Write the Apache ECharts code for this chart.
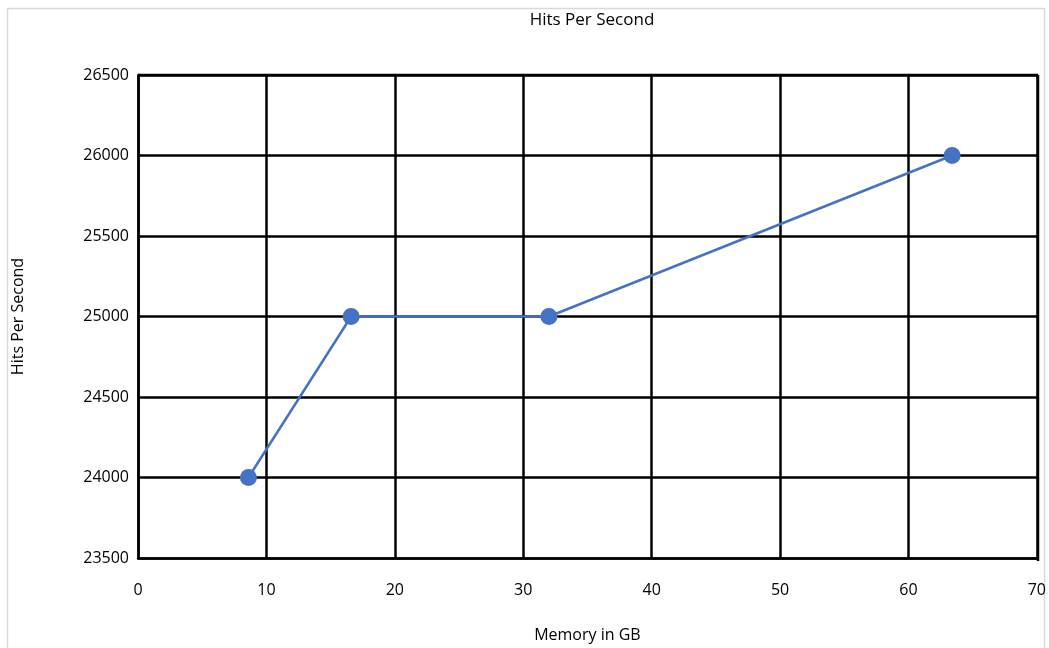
<!DOCTYPE html>
<html><head><meta charset="utf-8">
<script src="https://cdn.jsdelivr.net/npm/echarts@6/dist/echarts.min.js"></script>
<style>html,body{margin:0;padding:0;background:#fff}#c{width:1049px;height:648px}</style>
</head><body><div id="c"></div>
<script>
const memoryGB = [8.6, 16.6, 32, 63.4];
const hitsPerSecond = [24000, 25000, 25000, 26000];
const titleText = 'Hits Per Second';
const xAxisName = 'Memory in GB';
const yAxisName = 'Hits Per Second';

const chart = echarts.init(document.getElementById('c'));
const font = '"Open Sans", "Noto Sans", sans-serif';
chart.setOption({
  backgroundColor: '#fff',
  animation: false,
  title: { text: titleText, left: 587, top: 7, textAlign: 'center',
    textStyle: { fontFamily: font, fontSize: 17, fontWeight: 'normal', color: '#000' } },
  grid: { left: 138, right: 11, top: 75, bottom: 87 },
  xAxis: {
    type: 'value', min: 0, max: 70, interval: 10,
    name: xAxisName, nameLocation: 'middle', nameGap: 69,
    nameTextStyle: { fontFamily: font, fontSize: 16, color: '#000' },
    axisLine: { show: true, lineStyle: { color: '#000', width: 2.5 } },
    axisTick: { show: false },
    axisLabel: { fontFamily: font, fontSize: 16, color: '#000', margin: 24 },
    splitLine: { show: true, lineStyle: { color: '#000', width: 2.5 } }
  },
  yAxis: {
    type: 'value', min: 23500, max: 26500, interval: 500,
    name: yAxisName, nameLocation: 'middle', nameGap: 112, nameRotate: 90,
    nameTextStyle: { fontFamily: font, fontSize: 16, color: '#000' },
    axisLine: { show: true, lineStyle: { color: '#000', width: 2.5 } },
    axisTick: { show: false },
    axisLabel: { fontFamily: font, fontSize: 16, color: '#000', margin: 9,
      formatter: v => String(v) },
    splitLine: { show: true, lineStyle: { color: '#000', width: 2.5 } }
  },
  graphic: [
    { type: 'line', shape: { x1: 138, y1: 75, x2: 1038, y2: 75 }, style: { stroke: '#000', lineWidth: 2.5 }, z: 5 },
    { type: 'line', shape: { x1: 1038, y1: 75, x2: 1038, y2: 561 }, style: { stroke: '#000', lineWidth: 2.5 }, z: 5 },
    { type: 'rect', shape: { x: 7.5, y: 8.5, width: 1037, height: 660 }, style: { fill: 'none', stroke: '#d9d9d9', lineWidth: 1.5 }, z: 0 }
  ],
  series: [{
    type: 'line',
    data: memoryGB.map((x, i) => [x, hitsPerSecond[i]]),
    symbol: 'circle', symbolSize: 17,
    lineStyle: { color: '#4472C4', width: 2.5 },
    itemStyle: { color: '#4472C4' },
    z: 10
  }]
});
</script></body></html>
